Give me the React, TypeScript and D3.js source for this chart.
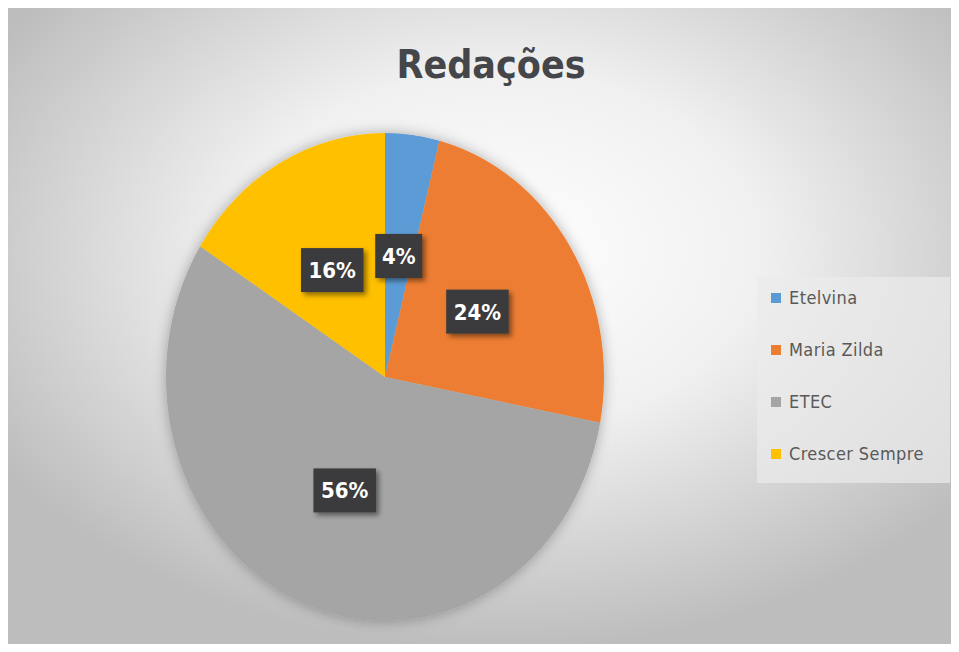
import React, { useMemo } from "react";
import * as d3 from "d3";

const categories = ["Etelvina", "Maria Zilda", "ETEC", "Crescer Sempre"];
const values = [1, 6, 14, 4];
const colors = ["#5B9BD5", "#ED7D31", "#A5A5A5", "#FFC000"];
const title = "Redações";

const W = 959;
const H = 652;
const cx = 385;
const cy = 377;
const rx = 219;
const ry = 244;

const font = "'DejaVu Sans Condensed', 'DejaVu Sans', sans-serif";

export default function App() {
  const total = d3.sum(values);

  const arcs = useMemo(() => {
    const pie = d3.pie<number>().sort(null).value((d) => d);
    return pie(values);
  }, []);

  // draw on a circle of radius ry, then squash x so it looks like the reference
  const arc = d3.arc<d3.PieArcDatum<number>>().innerRadius(0).outerRadius(ry);
  const labelArc = d3
    .arc<d3.PieArcDatum<number>>()
    .innerRadius(ry * 0.5)
    .outerRadius(ry * 0.5);
  const sx = rx / ry;

  const pct = d3.format(".0%");

  const legendY = d3
    .scalePoint<string>()
    .domain(categories)
    .range([298, 454]);

  return (
    <div style={{ margin: -8 }}>
      <svg width={W} height={H} style={{ display: "block" }}>
        <defs>
          <radialGradient id="bg" cx="52%" cy="38%" r="62%">
            <stop offset="0%" stopColor="#ffffff" />
            <stop offset="45%" stopColor="#f0f0f0" />
            <stop offset="100%" stopColor="#bdbdbd" />
          </radialGradient>
          <filter id="pieShadow" x="-20%" y="-20%" width="140%" height="140%">
            <feDropShadow dx="0" dy="0" stdDeviation="7" floodColor="#000" floodOpacity="0.3" />
          </filter>
          <filter id="boxShadow" x="-30%" y="-30%" width="170%" height="170%">
            <feDropShadow dx="3" dy="3" stdDeviation="2.5" floodColor="#000" floodOpacity="0.45" />
          </filter>
        </defs>
        <rect x={0} y={0} width={W} height={H} fill="#fff" />
        <rect x={5} y={6} width={950} height={644} fill="url(#bg)" stroke="#c8c8c8" strokeWidth={1} />

        <text
          x={491}
          y={78}
          textAnchor="middle"
          fontFamily={font}
          fontWeight="bold"
          fontSize={39}
          fill="#44464a"
        >
          {title}
        </text>

        <g transform={`translate(${cx},${cy}) scale(${sx},1)`} filter="url(#pieShadow)">
          {arcs.map((a, i) => (
            <path key={categories[i]} d={arc(a) || ""} fill={colors[i]} />
          ))}
        </g>

        {arcs.map((a, i) => {
          const [lx, ly] = labelArc.centroid(a);
          const x = cx + lx * sx;
          const y = cy + ly;
          const txt = pct(values[i] / total);
          const bw = 16 + 15.5 * txt.length;
          const bh = 44;
          return (
            <g key={"lbl" + i}>
              <rect
                x={x - bw / 2}
                y={y - bh / 2}
                width={bw}
                height={bh}
                fill="#3b3b3d"
                filter="url(#boxShadow)"
              />
              <text
                x={x}
                y={y + 8}
                textAnchor="middle"
                fontFamily={font}
                fontWeight="bold"
                fontSize={22}
                fill="#ffffff"
              >
                {txt}
              </text>
            </g>
          );
        })}

        <rect x={757} y={277} width={193} height={206} fill="#ebebeb" opacity={0.7} />
        {categories.map((c, i) => {
          const y = legendY(c) || 0;
          return (
            <g key={"leg" + c}>
              <rect x={771} y={y - 5} width={10} height={10} fill={colors[i]} />
              <text
                x={789}
                y={y + 6}
                fontFamily={font}
                fontSize={18}
                letterSpacing={0.4}
                fill="#595959"
              >
                {c}
              </text>
            </g>
          );
        })}
      </svg>
    </div>
  );
}
